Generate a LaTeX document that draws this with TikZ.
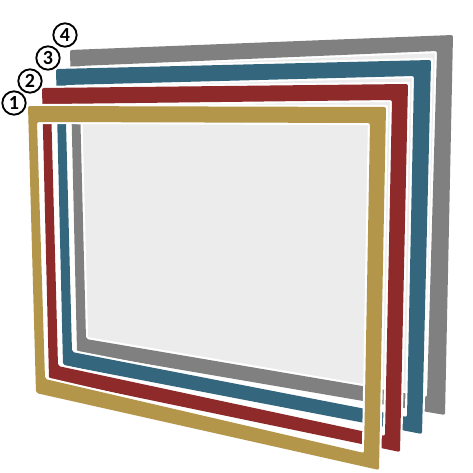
\documentclass[tikz,border=0pt]{standalone}
\usepackage{fontspec}
\setmainfont{Carlito}

\definecolor{frgold}{RGB}{180,150,74}
\definecolor{frred}{RGB}{142,42,42}
\definecolor{frblue}{RGB}{52,102,126}
\definecolor{frgrey}{RGB}{128,128,128}
\definecolor{glass}{RGB}{236,236,236}

\tikzset{
  framegap/.style={draw=white, line width=3.2pt, line join=round},
  framefill/.style={fill=#1, even odd rule, rounded corners=1.5pt},
  numcircle/.style={circle, draw, line width=1.4pt, minimum size=17.5pt, inner sep=0pt,
    font=\bfseries\fontsize{15}{15}\selectfont}
}

% colour, outer corners TL TR BR BL, inner corners TL TR BR BL
\newcommand{\glassframe}[9]{%
  \draw[framegap] #2 -- #3 -- #4 -- #5 -- cycle #6 -- #7 -- #8 -- #9 -- cycle;
  \fill[framefill=#1] #2 -- #3 -- #4 -- #5 -- cycle #6 -- #7 -- #8 -- #9 -- cycle;
}

\begin{document}
\begin{tikzpicture}[x=0.75pt,y=0.75pt,yscale=-1,xscale=1]
\path[use as bounding box] (0,0) rectangle (473,473);

%Shape: glass panel
\fill[glass] (79,66) -- (437,51) -- (427,397) -- (86,339) -- cycle;

%Frame 4 (grey)
\glassframe{frgrey}{(70,50)}{(453,35)}{(445,415)}{(77,352)}{(79,66)}{(437,51)}{(427,397)}{(86,339)}
%Frame 3 (blue)
\glassframe{frblue}{(56,69)}{(431,60)}{(422,434)}{(63,365)}{(65,85)}{(414,76)}{(407,417)}{(72,352)}
%Frame 2 (red)
\glassframe{frred}{(42,88)}{(408,84)}{(400,452)}{(49,379)}{(51,104)}{(392,100)}{(385,436)}{(58,366)}
%Frame 1 (gold)
\glassframe{frgold}{(28,106)}{(386,107)}{(379,470)}{(36,393)}{(37,122)}{(370,123)}{(364,453)}{(45,379)}

% Number labels
\node[numcircle] (num1) at (14,103) {1};
\node[numcircle] (num2) at (30,81) {2};
\node[numcircle] (num3) at (48,58) {3};
\node[numcircle] (num4) at (65,35) {4};

\end{tikzpicture}
\end{document}
